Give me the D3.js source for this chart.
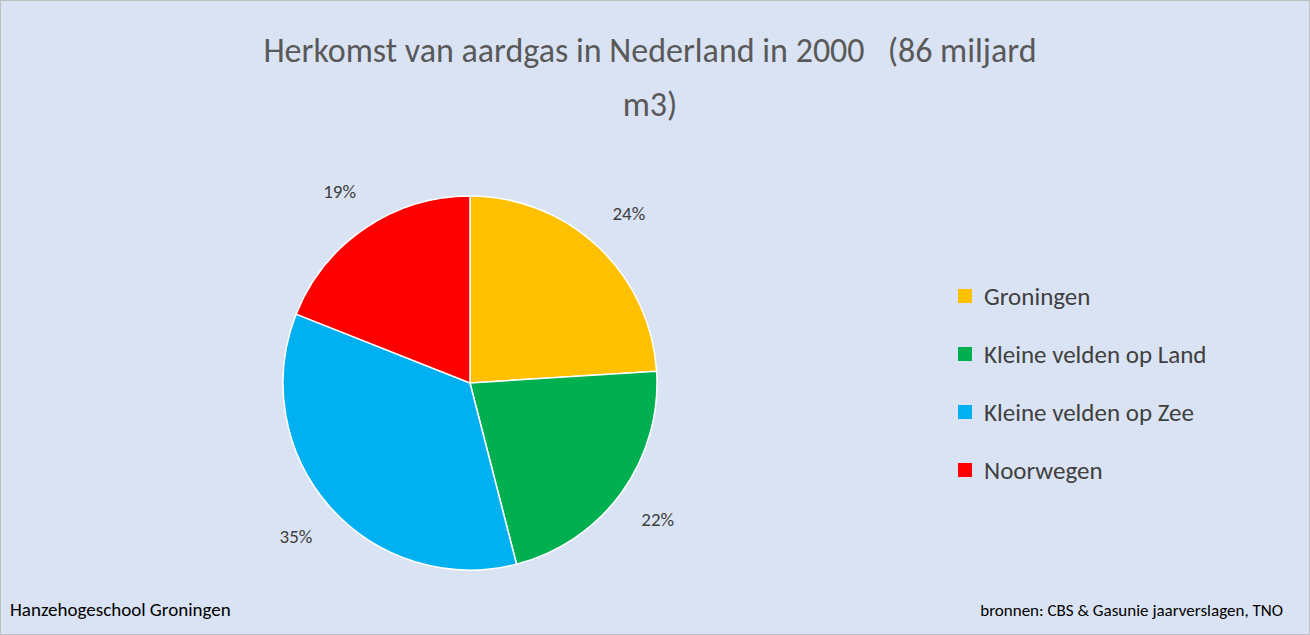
<!DOCTYPE html>
<html><head><meta charset="utf-8">
<script src="https://cdn.jsdelivr.net/npm/d3@7"></script>
<style>body{margin:0;background:#fff}</style>
</head><body><div id="chart"></div>
<script>
(function () {
  let categories = ['Groningen', 'Kleine velden op Land', 'Kleine velden op Zee', 'Noorwegen'];
  let values = [24, 22, 35, 19];
  let colors = ['#ffc000', '#00b050', '#00b0f0', '#ff0000'];

  let width = 1310, height = 635;
  let font = 'Carlito, Calibri, "Open Sans", sans-serif';

  let svg = d3.select('#chart').append('svg')
    .attr('width', width).attr('height', height)
    .style('font-family', font);

  svg.append('rect')
    .attr('x', 0.5).attr('y', 0.5)
    .attr('width', width - 1).attr('height', height - 1)
    .attr('fill', '#dae3f3').attr('stroke', '#bfbfbf');

  svg.append('text').attr('x', 650).attr('y', 62).attr('text-anchor', 'middle')
    .attr('fill', '#595959').style('font-size', '34px')
    .text('Herkomst van aardgas in Nederland in 2000\u00a0\u00a0\u00a0(86 miljard');
  svg.append('text').attr('x', 650).attr('y', 116).attr('text-anchor', 'middle')
    .attr('fill', '#595959').style('font-size', '34px').text('m3)');

  let cx = 470, cy = 383, r = 187;
  let pie = d3.pie().sort(null).value((d) => d.v);
  let arcs = pie(categories.map((c, i) => ({c: c, v: values[i], col: colors[i]})));
  let arc = d3.arc().innerRadius(0).outerRadius(r);
  let labelArc = d3.arc().innerRadius(232).outerRadius(232);

  let g = svg.append('g').attr('transform', 'translate(' + cx + ',' + cy + ')');
  g.selectAll('path').data(arcs).enter().append('path')
    .attr('d', arc).attr('fill', (d) => d.data.col)
    .attr('stroke', '#fff').attr('stroke-width', 1.5);
  g.selectAll('text').data(arcs).enter().append('text')
    .attr('transform', (d) => 'translate(' + labelArc.centroid(d) + ')')
    .attr('text-anchor', 'middle').attr('dominant-baseline', 'central')
    .attr('fill', '#404040').style('font-size', '19px')
    .text((d) => d.data.v + '%');

  let legend = svg.append('g').selectAll('g').data(categories).enter().append('g')
    .attr('transform', (d, i) => 'translate(958,' + (296 + i * 58) + ')');
  legend.append('rect').attr('x', 0).attr('y', -7).attr('width', 14).attr('height', 14)
    .attr('fill', (d, i) => colors[i]);
  legend.append('text').attr('x', 26).attr('dominant-baseline', 'central')
    .attr('fill', '#404040').style('font-size', '25px').text((d) => d);

  svg.append('text').attr('x', 10).attr('y', 616).attr('fill', '#000')
    .style('font-size', '19px').text('Hanzehogeschool Groningen');
  svg.append('text').attr('x', 1283).attr('y', 616).attr('text-anchor', 'end').attr('fill', '#000')
    .style('font-size', '17px').text('bronnen: CBS & Gasunie jaarverslagen, TNO');
})();
</script></body></html>
